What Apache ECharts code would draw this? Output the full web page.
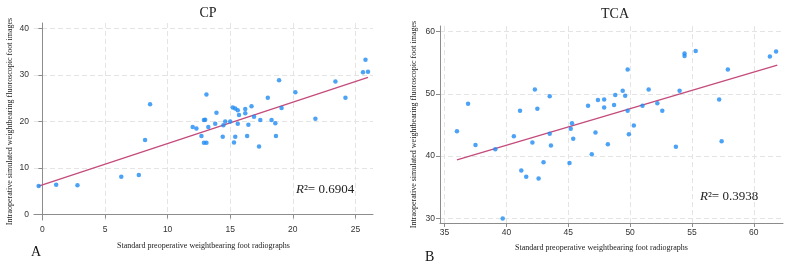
<!DOCTYPE html>
<html>
<head>
<meta charset="utf-8">
<script src="https://cdn.jsdelivr.net/npm/echarts@6/dist/echarts.min.js"></script>
<style>
  html, body { margin: 0; padding: 0; background: #fff; }
  #chart { width: 786px; height: 267px; }
</style>
</head>
<body>
<div id="chart"></div>
<script>
// CP panel (A)
const cpX = [-0.3, 1.1, 2.8, 6.3, 7.7, 8.2, 8.6, 12.0, 12.3, 12.7, 12.9, 13.0, 12.9, 13.1, 13.1, 13.25, 13.9, 13.8, 14.4, 14.45,
  14.6, 15.0, 15.2, 15.3, 15.4, 15.4, 15.6, 15.7, 15.6, 16.2, 16.2, 16.35, 16.45, 16.7, 16.9, 17.3, 17.4, 18.0, 18.3, 18.6,
  18.65, 18.9, 19.1, 20.2, 21.8, 23.4, 24.2, 25.6, 25.8, 26.0];
const cpY = [6.1, 6.4, 6.3, 8.1, 8.5, 16.0, 23.7, 18.8, 18.5, 16.9, 20.3, 20.4, 15.4, 15.4, 25.8, 18.8, 21.9, 19.5, 16.7, 19.2,
  20.0, 20.0, 23.0, 15.5, 22.8, 16.7, 22.4, 21.4, 19.5, 22.7, 21.8, 16.9, 19.3, 23.3, 21.0, 14.6, 20.3, 25.1, 20.3, 19.6,
  16.9, 28.9, 22.9, 26.3, 20.6, 28.6, 25.1, 30.6, 33.3, 30.7];
const cpFitX = [-0.3, 26.0];
const cpFitY = [6.1, 29.5];
const cpXTicks = [0, 5, 10, 15, 20, 25];
const cpYTicks = [0, 10, 20, 30, 40];

// TCA panel (B)
const tcaX = [36.0, 36.9, 37.5, 39.1, 39.7, 40.6, 41.1, 41.2, 41.6, 42.1, 42.3, 42.5, 42.6, 43.0, 43.5, 43.5, 43.6, 45.1, 45.2, 45.3,
  45.4, 46.6, 46.9, 47.2, 47.4, 47.9, 47.9, 48.2, 48.7, 48.8, 49.4, 49.6, 49.8, 49.8, 49.9, 50.3, 51.0, 51.5, 52.2, 52.6,
  53.7, 54.0, 54.4, 54.4, 55.3, 57.2, 57.4, 57.9, 61.3, 61.8];
const tcaY = [44.0, 48.4, 41.8, 41.1, 30.0, 43.2, 47.3, 37.7, 36.7, 42.2, 50.7, 47.6, 36.4, 39.0, 49.6, 43.6, 41.7, 38.9, 44.4, 45.3,
  42.8, 48.1, 40.3, 43.8, 49.0, 49.1, 47.8, 41.9, 48.2, 49.8, 50.5, 49.7, 53.9, 47.3, 43.5, 44.9, 48.1, 50.7, 48.5, 47.3,
  41.5, 50.5, 56.5, 56.1, 56.9, 49.1, 42.4, 53.9, 56.0, 56.8];
const tcaFitX = [36.0, 61.9];
const tcaFitY = [39.4, 54.6];
const tcaXTicks = [35, 40, 45, 50, 55, 60];
const tcaYTicks = [30, 40, 50, 60];

const yTitle = "Intraoperative simulated weightbearing fluoroscopic foot images";
const xTitle = "Standard preoperative weightbearing foot radiographs";

const serif = "Liberation Serif";
const sans = "Liberation Sans";
const dotColor = "#1f8bf2";
const fitColor = "#c44b7b";
const gridColor = "#e4e4e4";
const axisColor = "#8c8c8c";

const zip = (xs, ys) => xs.map((x, i) => [x, ys[i]]);

function makeAxis(gridIndex, min, max, ticks, extra) {
  return Object.assign({
    type: "value",
    gridIndex: gridIndex,
    min: min,
    max: max,
    axisLine: { show: true, lineStyle: { color: axisColor, width: 1 } },
    axisTick: { show: true, length: 4, customValues: ticks, lineStyle: { color: axisColor } },
    axisLabel: { customValues: ticks, color: "#333", fontFamily: sans, fontSize: 8.5, margin: 5 },
    splitLine: { show: true, lineStyle: { color: gridColor, type: [5, 3], width: 1 } },
  }, extra || {});
}

const yNameStyle = { fontFamily: serif, fontSize: 8, color: "#222" };

const chart = echarts.init(document.getElementById("chart"));
const option = {
  backgroundColor: "#fff",
  animation: false,
  title: [
    { text: "CP", left: 203, top: 1, textAlign: "center",
      textStyle: { fontFamily: serif, fontWeight: "normal", fontSize: 14, color: "#222" } },
    { text: "TCA", left: 610, top: 2, textAlign: "center",
      textStyle: { fontFamily: serif, fontWeight: "normal", fontSize: 14, color: "#222" } },
  ],
  grid: [
    { left: 34, top: 23, width: 339, height: 197 },
    { left: 440, top: 26, width: 343, height: 197 },
  ],
  xAxis: [
    makeAxis(0, -0.67, 26.4, cpXTicks),
    makeAxis(1, 34.63, 62.36, tcaXTicks),
  ],
  yAxis: [
    makeAxis(0, -1.2, 41.2, cpYTicks, {
      name: yTitle, nameLocation: "middle", nameGap: 20, nameTextStyle: yNameStyle,
    }),
    makeAxis(1, 29.26, 60.9, tcaYTicks, {
      name: yTitle, nameLocation: "middle", nameGap: 22, nameTextStyle: yNameStyle,
    }),
  ],
  series: [
    {
      type: "line", xAxisIndex: 0, yAxisIndex: 0, data: zip(cpFitX, cpFitY),
      symbol: "none", lineStyle: { color: fitColor, width: 1.3 }, z: 2,
    },
    {
      type: "scatter", xAxisIndex: 0, yAxisIndex: 0, data: zip(cpX, cpY),
      symbolSize: 4.5, itemStyle: { color: dotColor }, z: 3,
    },
    {
      type: "line", xAxisIndex: 1, yAxisIndex: 1, data: zip(tcaFitX, tcaFitY),
      symbol: "none", lineStyle: { color: fitColor, width: 1.3 }, z: 2,
    },
    {
      type: "scatter", xAxisIndex: 1, yAxisIndex: 1, data: zip(tcaX, tcaY),
      symbolSize: 4.5, itemStyle: { color: dotColor }, z: 3,
    },
  ],
  graphic: [
    { type: "text", left: 117, top: 242,
      style: { text: xTitle, fontFamily: serif, fontSize: 8, fill: "#222" } },
    { type: "text", left: 515, top: 244,
      style: { text: xTitle, fontFamily: serif, fontSize: 8, fill: "#222" } },
    { type: "text", left: 31, top: 245,
      style: { text: "A", fontFamily: serif, fontSize: 14, fill: "#111" } },
    { type: "text", left: 425, top: 250,
      style: { text: "B", fontFamily: serif, fontSize: 14, fill: "#111" } },
    { type: "text", left: 296, top: 183,
      style: { text: "{i|R}²= 0.6904", fontFamily: serif, fontSize: 13, fill: "#222",
        rich: { i: { fontStyle: "italic", fontFamily: serif, fontSize: 13, fill: "#222" } } } },
    { type: "text", left: 700, top: 190,
      style: { text: "{i|R}²= 0.3938", fontFamily: serif, fontSize: 13, fill: "#222",
        rich: { i: { fontStyle: "italic", fontFamily: serif, fontSize: 13, fill: "#222" } } } },
  ],
};
chart.setOption(option);
</script>
</body>
</html>
